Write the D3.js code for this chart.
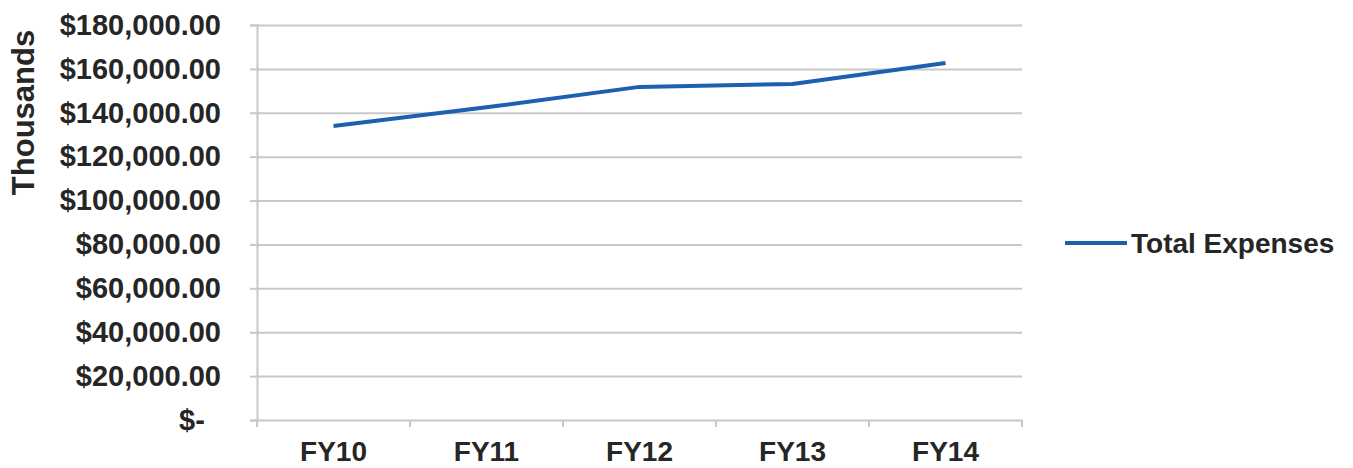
<!DOCTYPE html>
<html>
<head>
<meta charset="utf-8">
<script src="https://cdn.jsdelivr.net/npm/d3@7"></script>
<style>
	html, body { margin: 0; padding: 0; background: #fff; }
	svg { display: block; font-family: 'Liberation Sans', Arial, sans-serif; }
</style>
</head>
<body>
<div id="chart"><svg id="svg-1"></svg></div>
<script>
// Fiscal years on the x axis
const years = ['FY10', 'FY11', 'FY12', 'FY13', 'FY14'];
// Total expenses, in thousands of dollars
const totalExpenses = [134000, 142500, 151800, 153100, 162700];
// y axis tick values
const yTicks = [0, 20000, 40000, 60000, 80000, 100000, 120000, 140000, 160000, 180000];
const seriesName = 'Total Expenses';

const width = 1353;
const height = 468;
const marginTop = 25;
const marginRight = 331;
const marginBottom = 48;
const marginLeft = 257;

const lineColor = '#1f5faf';
const gridColor = '#c8c8c8';
const textColor = '#262626';

const data = years.map((d, i) => ({ year: d, value: totalExpenses[i] }));

const x = d3
	.scaleBand()
	.domain(years)
	.range([marginLeft, width - marginRight])
	.padding(0);

const y = d3
	.scaleLinear()
	.domain([0, d3.max(yTicks)])
	.range([height - marginBottom, marginTop]);

// accounting style: zero shows as "$-"
const fmt = d3.format('$,.2f');
const formatTick = (d) => (d === 0 ? '$-\u00a0\u00a0' : fmt(d));

const svg = d3
	.select('#svg-1')
	.attr('width', width)
	.attr('height', height)
	.attr('viewBox', [0, 0, width, height]);

// horizontal gridlines + y labels
const yAxis = svg
	.append('g')
	.attr('transform', `translate(${marginLeft},0)`)
	.call(
		d3
			.axisLeft(y)
			.tickValues(yTicks)
			.tickFormat(formatTick)
			.tickSize(7)
			.tickPadding(29)
	);

yAxis.select('.domain').attr('stroke', gridColor).attr('stroke-width', 2);
yAxis.selectAll('.tick line').attr('stroke', gridColor).attr('stroke-width', 2);
yAxis
	.selectAll('.tick')
	.filter((d) => d > 0)
	.append('line')
	.attr('x1', 0)
	.attr('x2', width - marginRight - marginLeft)
	.attr('stroke', gridColor)
	.attr('stroke-width', 2);
yAxis
	.selectAll('.tick text')
	.attr('fill', textColor)
	.attr('font-size', 29)
	.attr('font-weight', 'bold')
	.style('white-space', 'pre');

// x axis
const xAxis = svg
	.append('g')
	.attr('transform', `translate(0,${height - marginBottom})`)
	.call(d3.axisBottom(x).tickSize(0).tickPadding(21));

xAxis.select('.domain').attr('stroke', gridColor).attr('stroke-width', 2);
xAxis
	.selectAll('.tick text')
	.attr('fill', textColor)
	.attr('font-size', 28)
	.attr('font-weight', 'bold');

// tick marks between the categories
xAxis
	.selectAll('.edge')
	.data(years.map((d) => x(d)).concat([x(years[years.length - 1]) + x.bandwidth()]))
	.join('line')
	.attr('class', 'edge')
	.attr('x1', (d) => d)
	.attr('x2', (d) => d)
	.attr('y1', 0)
	.attr('y2', 7)
	.attr('stroke', gridColor)
	.attr('stroke-width', 2);

// y axis title
svg
	.append('text')
	.attr('transform', `translate(34,${(30 + 195) / 2}) rotate(-90)`)
	.attr('text-anchor', 'middle')
	.attr('fill', textColor)
	.attr('font-size', 31)
	.attr('font-weight', 'bold')
	.text('Thousands');

// the line
const line = d3
	.line()
	.x((d) => x(d.year) + x.bandwidth() / 2)
	.y((d) => y(d.value));

svg
	.append('path')
	.datum(data)
	.attr('fill', 'none')
	.attr('stroke', lineColor)
	.attr('stroke-width', 4)
	.attr('stroke-linejoin', 'round')
	.attr('d', line);

// legend
const legend = svg.append('g').attr('transform', `translate(1065,243)`);

legend
	.append('line')
	.attr('x1', 0)
	.attr('x2', 62)
	.attr('stroke', lineColor)
	.attr('stroke-width', 4);

legend
	.append('text')
	.attr('x', 66)
	.attr('dy', '0.35em')
	.attr('fill', textColor)
	.attr('font-size', 28)
	.attr('font-weight', 'bold')
	.text(seriesName);
</script>
</body>
</html>
